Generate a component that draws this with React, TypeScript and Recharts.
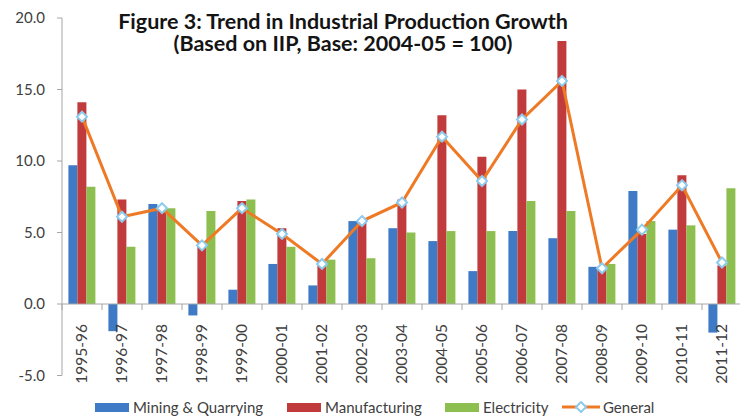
import React from 'react';
import { ComposedChart, Bar, Line, XAxis, YAxis, ReferenceLine } from 'recharts';

const years = ['1995-96','1996-97','1997-98','1998-99','1999-00','2000-01','2001-02','2002-03','2003-04','2004-05','2005-06','2006-07','2007-08','2008-09','2009-10','2010-11','2011-12'];
const mining = [9.7, -1.9, 7.0, -0.8, 1.0, 2.8, 1.3, 5.8, 5.3, 4.4, 2.3, 5.1, 4.6, 2.6, 7.9, 5.2, -2.0];
const manufacturing = [14.1, 7.3, 6.8, 4.2, 7.2, 5.3, 2.8, 5.9, 7.3, 13.2, 10.3, 15.0, 18.4, 2.5, 4.9, 9.0, 2.7];
const electricity = [8.2, 4.0, 6.7, 6.5, 7.3, 4.0, 3.1, 3.2, 5.0, 5.1, 5.1, 7.2, 6.5, 2.8, 5.8, 5.5, 8.1];
const general = [13.1, 6.1, 6.7, 4.1, 6.7, 4.9, 2.8, 5.8, 7.1, 11.7, 8.6, 12.9, 15.6, 2.5, 5.2, 8.3, 2.9];
const yTicks = [-5, 0, 5, 10, 15, 20];

const data = years.map((y, i) => ({
  year: y,
  mining: mining[i],
  manufacturing: manufacturing[i],
  electricity: electricity[i],
  general: general[i],
}));

const BLUE = '#3F7AC6';
const RED = '#C23B3C';
const GREEN = '#8DBE50';
const ORANGE = '#EE7A26';
const AXIS = '#A6A6A6';
const TXT = '#404040';
const FONT = 'Lato, "Open Sans", sans-serif';

const W = 760;
const H = 416;
const TOP = 18;
const BOTTOM_PAD = 40.5;
const LEFT_W = 62;
const RIGHT_M = 18;
const Y_MIN = -5;
const Y_MAX = 20;
const PLOT_H = H - TOP - BOTTOM_PAD;
const zeroY = TOP + (PLOT_H * (Y_MAX - 0)) / (Y_MAX - Y_MIN);
const BAND = (W - LEFT_W - RIGHT_M) / years.length;

const XTick = (props: any) => {
  const { x, payload } = props;
  const isLast = payload.index === years.length - 1;
  return (
    <g>
      <line x1={x - BAND / 2} x2={x - BAND / 2} y1={zeroY} y2={zeroY + 6} stroke={AXIS} />
      {isLast && <line x1={x + BAND / 2} x2={x + BAND / 2} y1={zeroY} y2={zeroY + 6} stroke={AXIS} />}
      <text
        transform={`translate(${x + 5},${zeroY + 20}) rotate(-90)`}
        textAnchor="end"
        fontFamily={FONT}
        fontSize={15.5}
        fill={TXT}
      >
        {payload.value}
      </text>
    </g>
  );
};

const Diamond = (props: any) => {
  const { cx, cy } = props;
  if (cx == null || cy == null) return null;
  const r = 5;
  return (
    <path
      d={`M${cx},${cy - r} L${cx + r},${cy} L${cx},${cy + r} L${cx - r},${cy} Z`}
      fill="#FFFFFF"
      stroke="#8CCBEE"
      strokeWidth={2}
    />
  );
};

const legendItems = [
  { name: 'Mining & Quarrying', color: BLUE, left: 95, type: 'bar' },
  { name: 'Manufacturing', color: RED, left: 287, type: 'bar' },
  { name: 'Electricity', color: GREEN, left: 445, type: 'bar' },
  { name: 'General', color: ORANGE, left: 562, type: 'line' },
];

export default function App() {
  return (
    <div style={{ position: 'fixed', left: 0, top: 0, width: 740, height: 416, overflow: 'hidden', background: '#FFFFFF', fontFamily: FONT }}>
      <ComposedChart
        width={W}
        height={H}
        data={data}
        margin={{ top: TOP, right: RIGHT_M, bottom: 0, left: 0 }}
        barGap={0}
        barCategoryGap="16%"
      >
        <XAxis
          dataKey="year"
          axisLine={false}
          tickLine={false}
          height={BOTTOM_PAD}
          tick={<XTick />}
          interval={0}
        />
        <YAxis
          domain={[Y_MIN, Y_MAX]}
          ticks={yTicks}
          width={LEFT_W}
          axisLine={{ stroke: AXIS }}
          tickLine={{ stroke: AXIS }}
          tickSize={5}
          tickMargin={12}
          tickFormatter={(v: number) => v.toFixed(1)}
          tick={{ fontSize: 15, fill: TXT, fontFamily: FONT }}
        />
        <ReferenceLine y={0} stroke={AXIS} />
        <Bar dataKey="mining" fill={BLUE} isAnimationActive={false} />
        <Bar dataKey="manufacturing" fill={RED} isAnimationActive={false} />
        <Bar dataKey="electricity" fill={GREEN} isAnimationActive={false} />
        <Line dataKey="general" stroke={ORANGE} strokeWidth={3} dot={<Diamond />} activeDot={false} isAnimationActive={false} />
      </ComposedChart>
      <div style={{ position: 'absolute', left: 93, width: 500, top: 10, textAlign: 'center', fontWeight: 700, fontSize: 21.5, lineHeight: '22px', color: '#141414' }}>
        <div>Figure 3: Trend in Industrial Production Growth</div>
        <div>(Based on IIP, Base: 2004-05 = 100)</div>
      </div>
      {legendItems.map((it) => (
        <div key={it.name} style={{ position: 'absolute', left: it.left, top: 398, height: 18, display: 'flex', alignItems: 'center', fontSize: 15, color: TXT }}>
          {it.type === 'bar' ? (
            <div style={{ width: 34, height: 9, background: it.color, marginRight: 4 }} />
          ) : (
            <svg width={38} height={12} style={{ marginRight: 3 }}>
              <line x1={0} x2={38} y1={6} y2={6} stroke={it.color} strokeWidth={3} />
              <path d="M19,1 L24,6 L19,11 L14,6 Z" fill="#FFFFFF" stroke="#8CCBEE" strokeWidth={2} />
            </svg>
          )}
          <span>{it.name}</span>
        </div>
      ))}
    </div>
  );
}
